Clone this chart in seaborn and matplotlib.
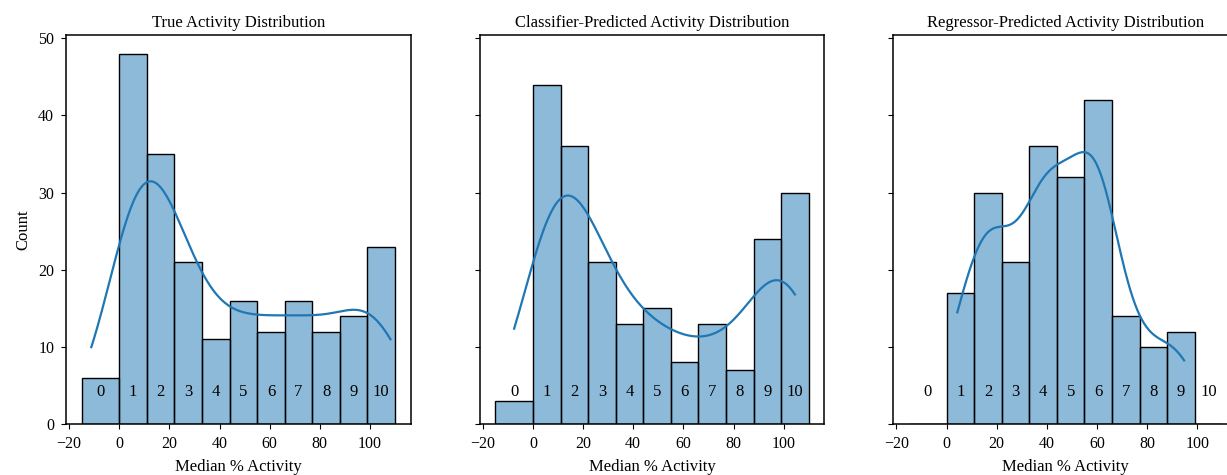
import numpy as np
import pandas as pd
import matplotlib
matplotlib.use("Agg")
import matplotlib.pyplot as plt
import seaborn as sns

# histogram bins shared by all panels (bin 0 is the wider "below zero" bin)
bin_edges = [-15, 0, 11, 22, 33, 44, 55, 66, 77, 88, 99, 110]
bin_labels = [str(i) for i in range(11)]

true_counts = [6, 48, 35, 21, 11, 16, 12, 16, 12, 14, 23]
classifier_counts = [3, 44, 36, 21, 13, 15, 8, 13, 7, 24, 30]
regressor_counts = [0, 17, 30, 21, 36, 32, 42, 14, 10, 12, 0]

titles = [
    "True Activity Distribution",
    "Classifier-Predicted Activity Distribution",
    "Regressor-Predicted Activity Distribution",
]
kde_cut = [0.3, 0.0, 0.15]

plt.rcParams["font.family"] = ["Liberation Serif", "DejaVu Serif"]
plt.rcParams["font.size"] = 11.5
plt.rcParams["axes.linewidth"] = 1.1
plt.rcParams["xtick.major.pad"] = 5
plt.rcParams["ytick.major.pad"] = 5
plt.rcParams["axes.labelpad"] = 5

edges = np.array(bin_edges, dtype=float)
centers = (edges[:-1] + edges[1:]) / 2

fig, axes = plt.subplots(1, 3, figsize=(12.27, 4.75), dpi=100, sharex=True, sharey=True)
fig.subplots_adjust(left=0.0538, right=1.009, bottom=0.107, top=0.926, wspace=0.2)

all_counts = [true_counts, classifier_counts, regressor_counts]
for ax, counts, title, cut in zip(axes, all_counts, titles, kde_cut):
    df = pd.DataFrame({"activity": np.repeat(centers, counts)})
    sns.histplot(data=df, x="activity", bins=bin_edges, kde=True, ax=ax,
                 edgecolor="black", linewidth=1.0,
                 kde_kws={"cut": cut}, line_kws={"linewidth": 1.6})
    for c, lab in zip(centers, bin_labels):
        ax.text(c, 4.2, lab, ha="center", va="center", fontsize=12)
    ax.set_title(title, fontsize=12)
    ax.set_xlabel("Median % Activity", fontsize=12)
    ax.set_ylabel("Count", fontsize=12)

for ax in axes[1:]:
    ax.set_ylabel("")

fig.savefig("out.png", dpi=100)
